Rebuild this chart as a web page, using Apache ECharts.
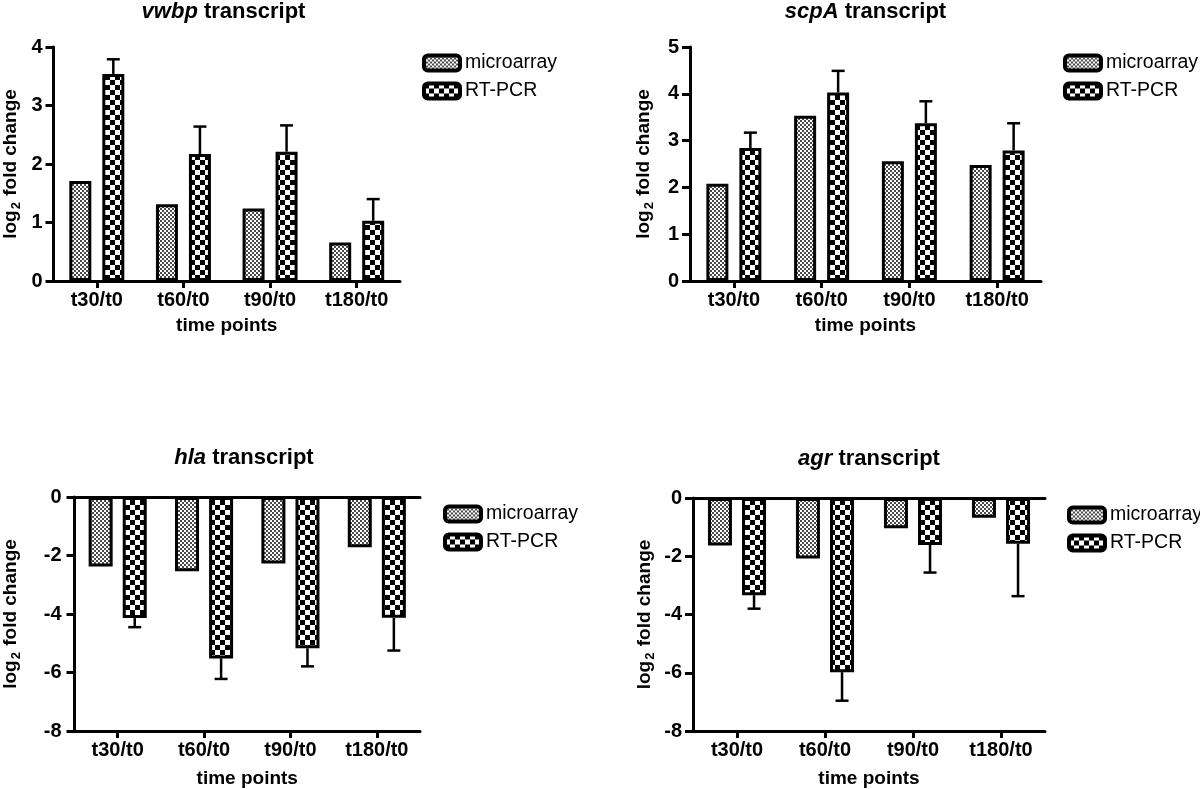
<!DOCTYPE html>
<html>
<head>
<meta charset="utf-8">
<script src="https://cdn.jsdelivr.net/npm/echarts@6/dist/echarts.min.js"></script>
<style>
html,body{margin:0;padding:0;background:#fff;}
#main{width:1200px;height:789px;}
</style>
</head>
<body>
<div id="main"></div>
<script>
// ---------- data ----------
const categories = ['t30/t0', 't60/t0', 't90/t0', 't180/t0'];
const seriesNames = ['microarray', 'RT-PCR'];

const vwbpMicro = [1.71, 1.31, 1.24, 0.66];
const vwbpRT    = [3.54, 2.17, 2.21, 1.03];
const vwbpErr   = [0.25, 0.47, 0.45, 0.37];

const scpaMicro = [2.08, 3.53, 2.56, 2.48];
const scpaRT    = [2.84, 4.03, 3.37, 2.79];
const scpaErr   = [0.33, 0.46, 0.47, 0.58];

const hlaMicro  = [-2.38, -2.54, -2.27, -1.72];
const hlaRT     = [-4.14, -5.52, -5.17, -4.13];
const hlaErr    = [0.31, 0.70, 0.62, 1.12];

const agrMicro  = [-1.63, -2.08, -1.04, -0.68];
const agrRT     = [-3.34, -5.98, -1.61, -1.57];
const agrErr    = [0.46, 0.98, 0.95, 1.80];

const titles = [['vwbp', ' transcript'], ['scpA', ' transcript'], ['hla', ' transcript'], ['agr', ' transcript']];
const yTicksTop1 = {min: 0, max: 4, interval: 1};
const yTicksTop2 = {min: 0, max: 5, interval: 1};
const yTicksBottom = {min: -8, max: 0, interval: 2};

// ---------- patterns ----------
function checker(cell, dark, light) {
  const c = document.createElement('canvas');
  c.width = cell * 2; c.height = cell * 2;
  const ctx = c.getContext('2d');
  ctx.fillStyle = light; ctx.fillRect(0, 0, cell * 2, cell * 2);
  ctx.fillStyle = dark;
  ctx.fillRect(0, 0, cell, cell);
  ctx.fillRect(cell, cell, cell, cell);
  return c;
}
const microFill = {image: checker(2, '#4a4a4a', '#ffffff'), repeat: 'repeat'};
const rtFill = {image: checker(5, '#000000', '#ffffff'), repeat: 'repeat'};

const FONT = '"Liberation Sans", Arial, sans-serif';

// ---------- layout ----------
const panels = [
  {left: 47, top: 47, width: 353, height: 234, micro: vwbpMicro, rt: vwbpRT, err: vwbpErr, y: yTicksTop1, neg: false, nameGapY: 31, nameGapX: 35, barW: 22, gap: '50%', yMargin: 11, legend: [422, 53]},
  {left: 690, top: 47, width: 351, height: 234, micro: scpaMicro, rt: scpaRT, err: scpaErr, y: yTicksTop2, neg: false, nameGapY: 34, nameGapX: 35, barW: 22, gap: '50%', yMargin: 11, legend: [1063, 53]},
  {left: 68, top: 497, width: 352, height: 234, micro: hlaMicro, rt: hlaRT, err: hlaErr, y: yTicksBottom, neg: true, nameGapY: 52, nameGapX: 38, barW: 24, gap: '42%', yMargin: 13, legend: [443, 504]},
  {left: 693, top: 498, width: 352, height: 234, micro: agrMicro, rt: agrRT, err: agrErr, y: yTicksBottom, neg: true, nameGapY: 36, nameGapX: 38, barW: 24, gap: '42%', yMargin: 11, legend: [1067, 505]}
];

const grid = [], xAxis = [], yAxis = [], series = [], title = [], legend = [];

panels.forEach((p, i) => {
  grid.push({left: p.left, top: p.top, width: p.width, height: p.height, containLabel: false});
  xAxis.push({
    type: 'category', gridIndex: i, data: categories, position: 'bottom',
    axisLine: {show: true, onZero: false, lineStyle: {color: '#000', width: 3}},
    axisTick: {show: true, alignWithLabel: true, length: 7, lineStyle: {color: '#000', width: 3}},
    axisLabel: {color: '#000', fontFamily: FONT, fontWeight: 'bold', fontSize: 20, margin: 9},
    name: 'time points', nameLocation: 'middle', nameGap: p.nameGapX,
    nameTextStyle: {color: '#000', fontFamily: FONT, fontWeight: 'bold', fontSize: 19}
  });
  yAxis.push({
    type: 'value', gridIndex: i, min: p.y.min, max: p.y.max, interval: p.y.interval,
    axisLine: {show: true, lineStyle: {color: '#000', width: 3}},
    axisTick: {show: true, length: 8, lineStyle: {color: '#000', width: 3}},
    axisLabel: {color: '#000', fontFamily: FONT, fontWeight: 'bold', fontSize: 20, margin: p.yMargin},
    splitLine: {show: false},
    name: '{a|log}{s|2}{a| fold change}', nameLocation: 'middle', nameGap: p.nameGapY,
    nameTextStyle: {
      color: '#000', fontFamily: FONT, fontWeight: 'bold', fontSize: 19,
      rich: {
        a: {color: '#000', fontFamily: FONT, fontWeight: 'bold', fontSize: 19, lineHeight: 24},
        s: {color: '#000', fontFamily: FONT, fontWeight: 'bold', fontSize: 13, lineHeight: 24, verticalAlign: 'bottom', padding: [0, 1, 0, 1]}
      }
    }
  });
  if (p.neg) {
    // zero line along the top of the negative panels
    xAxis.push({
      type: 'category', gridIndex: i, data: categories, position: 'top',
      axisLine: {show: true, onZero: false, lineStyle: {color: '#000', width: 3}},
      axisTick: {show: false}, axisLabel: {show: false}
    });
  }
  const xIdx = xAxis.length - (p.neg ? 2 : 1);
  const itemBase = {borderColor: '#000', borderWidth: 3};
  series.push({
    name: seriesNames[0], type: 'bar', xAxisIndex: xIdx, yAxisIndex: i,
    data: p.micro, barWidth: p.barW, barGap: p.gap,
    itemStyle: Object.assign({color: microFill}, itemBase)
  });
  series.push({
    name: seriesNames[1], type: 'bar', xAxisIndex: xIdx, yAxisIndex: i,
    data: p.rt, barWidth: p.barW, barGap: p.gap,
    itemStyle: Object.assign({color: rtFill}, itemBase)
  });
  const half = (p.barW * (1 + parseFloat(p.gap) / 100)) / 2;
  series.push({
    type: 'custom', xAxisIndex: xIdx, yAxisIndex: i, z: 1,
    data: p.rt.map((v, k) => [k, v, p.err[k]]),
    encode: {x: 0, y: 1},
    renderItem: function (params, api) {
      const k = api.value(0), v = api.value(1), e = api.value(2);
      const a = api.coord([k, v]);
      const b = api.coord([k, v + (v < 0 ? -e : e)]);
      const cx = a[0] + half;
      return {
        type: 'group',
        children: [
          {type: 'line', shape: {x1: cx, y1: a[1], x2: cx, y2: b[1]}, style: {stroke: '#000', lineWidth: 2.5}},
          {type: 'line', shape: {x1: cx - 6.5, y1: b[1], x2: cx + 6.5, y2: b[1]}, style: {stroke: '#000', lineWidth: 2.5}}
        ]
      };
    }
  });
  title.push({
    text: '{i|' + titles[i][0] + '}' + titles[i][1],
    left: p.left + p.width / 2, top: p.top - (i < 2 ? 46 : 50), textAlign: 'center', padding: 0,
    textStyle: {
      color: '#000', fontFamily: FONT, fontWeight: 'bold', fontSize: 22,
      rich: {i: {color: '#000', fontFamily: FONT, fontWeight: 'bold', fontStyle: 'italic', fontSize: 22}}
    }
  });
  legend.push({
    data: seriesNames, orient: 'vertical', left: p.legend[0], top: p.legend[1], padding: 0,
    itemWidth: 36, itemHeight: 15, itemGap: 8, icon: 'roundRect',
    itemStyle: {borderColor: '#000', borderWidth: 4},
    textStyle: {color: '#000', fontFamily: FONT, fontSize: 19.5},
    selectedMode: false
  });
});

const chart = echarts.init(document.getElementById('main'), null, {renderer: 'canvas'});
chart.setOption({
  animation: false,
  backgroundColor: '#fff',
  title: title, legend: legend, grid: grid, xAxis: xAxis, yAxis: yAxis, series: series
});
</script>
</body>
</html>
